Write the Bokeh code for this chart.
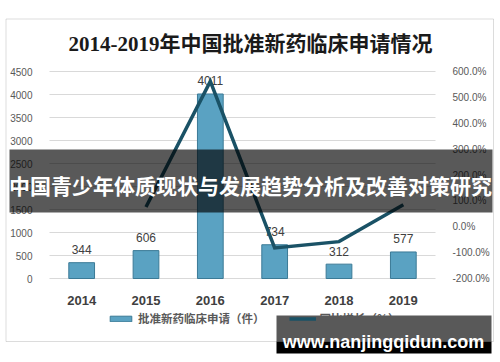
from bokeh.plotting import figure
from bokeh.models import (ColumnDataSource, Range1d, LinearAxis, FixedTicker,
                          PrintfTickFormatter, BoxAnnotation, Label, Legend, LegendItem)
from bokeh.core.properties import value
from bokeh.embed import file_html
from bokeh.resources import INLINE

# ---- data ----
years = ["2014", "2015", "2016", "2017", "2018", "2019"]
applications = [344, 606, 4011, 734, 312, 577]
growth_years = ["2015", "2016", "2017", "2018", "2019"]
growth_pct = [76.2, 562.0, -81.7, -57.5, 84.9]
left_ticks = [0, 500, 1000, 1500, 2000, 2500, 3000, 3500, 4000, 4500]
right_ticks = [-200, -100, 0, 100, 200, 300, 400, 500, 600]
title_text = "2014-2019年中国批准新药临床申请情况"
banner_text = "中国青少年体质现状与发展趋势分析及改善对策研究"
watermark_text = "www.nanjingqidun.com"
bar_label = "批准新药临床申请（件）"
line_label = "同比增长（%）"

CJK = "Noto Sans CJK SC"
W, H = 500, 362

# ---- layout geometry (page pixels) of the plotting area ----
AREA_L, AREA_R, AREA_T, AREA_B = 49, 435, 71, 278
n = len(years)
unit = (AREA_R - AREA_L) / n                      # px per category
x_lo = -0.5 - AREA_L / unit
x_hi = -0.5 + (W - AREA_L) / unit
cnt_lo, cnt_hi = left_ticks[0], left_ticks[-1]
cpx = (AREA_B - AREA_T) / (cnt_hi - cnt_lo)
y_lo = cnt_lo - (H - AREA_B) / cpx
y_hi = cnt_hi + AREA_T / cpx
pct_lo, pct_hi = right_ticks[0], right_ticks[-1]
ppx = (AREA_B - AREA_T) / (pct_hi - pct_lo)
p_lo = pct_lo - (H - AREA_B) / ppx
p_hi = pct_hi + AREA_T / ppx

idx = list(range(n))
pos = {y: i for i, y in enumerate(years)}
growth_idx = [pos[y] for y in growth_years]

def sx(px):
    return px

def sy(py):
    return H - py

p = figure(width=W, height=H, x_range=Range1d(x_lo, x_hi), y_range=Range1d(y_lo, y_hi),
           min_border=0, output_backend="svg", toolbar_location=None, title=None,
           x_axis_type=None, y_axis_type=None)
p.outline_line_color = None
p.background_fill_color = "white"
p.border_fill_color = "white"
p.xgrid.visible = False
p.ygrid.visible = False

p.extra_y_ranges = {"pct": Range1d(p_lo, p_hi)}

# left axis
yl = LinearAxis(ticker=FixedTicker(ticks=left_ticks), fixed_location=-0.5)
# right axis
yr = LinearAxis(y_range_name="pct", ticker=FixedTicker(ticks=right_ticks),
                formatter=PrintfTickFormatter(format="%.1f%%"), fixed_location=n - 0.5)
for ax in (yl, yr):
    ax.axis_line_color = None
    ax.major_tick_line_color = None
    ax.minor_tick_line_color = None
    ax.major_label_standoff = 11
    ax.major_label_text_font_size = "10px"
    ax.major_label_text_color = "#595959"
    ax.major_label_text_font = "Liberation Sans"
p.add_layout(yl, "left")
p.add_layout(yr, "right")

xa = LinearAxis(ticker=FixedTicker(ticks=idx), fixed_location=cnt_lo,
                major_label_overrides={i: y for i, y in enumerate(years)})
xa.axis_line_color = None
xa.major_tick_line_color = None
xa.minor_tick_line_color = None
xa.major_label_standoff = 11
xa.major_label_text_font_size = "13px"
xa.major_label_text_font_style = "bold"
xa.major_label_text_color = "#404040"
xa.major_label_text_font = "Liberation Sans"
p.add_layout(xa, "below")

# gridlines at the left-axis ticks, spanning the category area
p.segment(x0=[-0.5] * len(left_ticks), x1=[n - 0.5] * len(left_ticks),
          y0=left_ticks, y1=left_ticks, line_color="#d9d9d9", line_width=1)

src = ColumnDataSource(dict(x=idx, applications=applications,
                            labels=[str(v) for v in applications]))
bars = p.vbar(x="x", top="applications", width=0.4, source=src,
              fill_color="#5aa2c2", line_color="#3b7a96", line_width=1)
p.text(x="x", y="applications", text="labels", source=src,
       text_align="center", text_baseline="middle", y_offset=-13,
       text_font_size="12px", text_color="#404040", text_font=value("Liberation Sans"))
line = p.line(x=growth_idx, y=growth_pct, y_range_name="pct",
              line_width=3.5, line_color="#1a5266", line_join="miter")

legend = Legend(items=[LegendItem(label=bar_label, renderers=[bars]),
                       LegendItem(label=line_label, renderers=[line])],
                orientation="horizontal", location=(sx(107), sy(326)),
                glyph_width=27, glyph_height=7, label_height=7, label_standoff=4,
                spacing=24, padding=0, margin=0, border_line_color=None,
                background_fill_alpha=0,
                label_text_font=CJK, label_text_font_size="11.5px",
                label_text_color="#595959", label_text_font_style="bold")
p.add_layout(legend)

def screen_box(l, r, t, b, **kw):
    return BoxAnnotation(left=sx(l), right=sx(r), top=sy(t), bottom=sy(b),
                         left_units="screen", right_units="screen",
                         top_units="screen", bottom_units="screen", **kw)

# outer chart frame
p.add_layout(screen_box(5.5, 493, 18.5, 341, fill_alpha=0, line_color="#8c8c8c",
                        line_width=1, level="underlay"))

p.add_layout(Label(x=sx(250), y=sy(43), x_units="screen", y_units="screen",
                   text=title_text, text_align="center", text_baseline="middle",
                   text_font="'Liberation Serif', 'Noto Sans CJK SC'", text_font_size="21px",
                   text_font_style="bold", text_color="#1a1a1a"))

# banner overlay
p.add_layout(screen_box(9, 492, 149, 212, fill_color="black", fill_alpha=0.65,
                        line_color=None, level="overlay"))
p.add_layout(Label(x=sx(250), y=sy(184), x_units="screen", y_units="screen",
                   text=banner_text, text_align="center", text_baseline="middle",
                   text_font=CJK, text_font_size="21px", text_font_style="bold",
                   text_color="white", level="overlay"))

# watermark
p.add_layout(screen_box(276, 491, 315, 341, fill_color="black", fill_alpha=0.65,
                        line_color=None, level="overlay"))
p.add_layout(screen_box(276, 491, 341, 353, fill_color="black", fill_alpha=1,
                        line_color=None, level="overlay"))
p.add_layout(Label(x=sx(383), y=sy(341), x_units="screen", y_units="screen",
                   text=watermark_text, text_align="center", text_baseline="alphabetic",
                   text_font="Liberation Sans", text_font_size="18px", text_font_style="bold",
                   text_color="white", level="overlay"))

open("out.html", "w").write(file_html(p, INLINE))
